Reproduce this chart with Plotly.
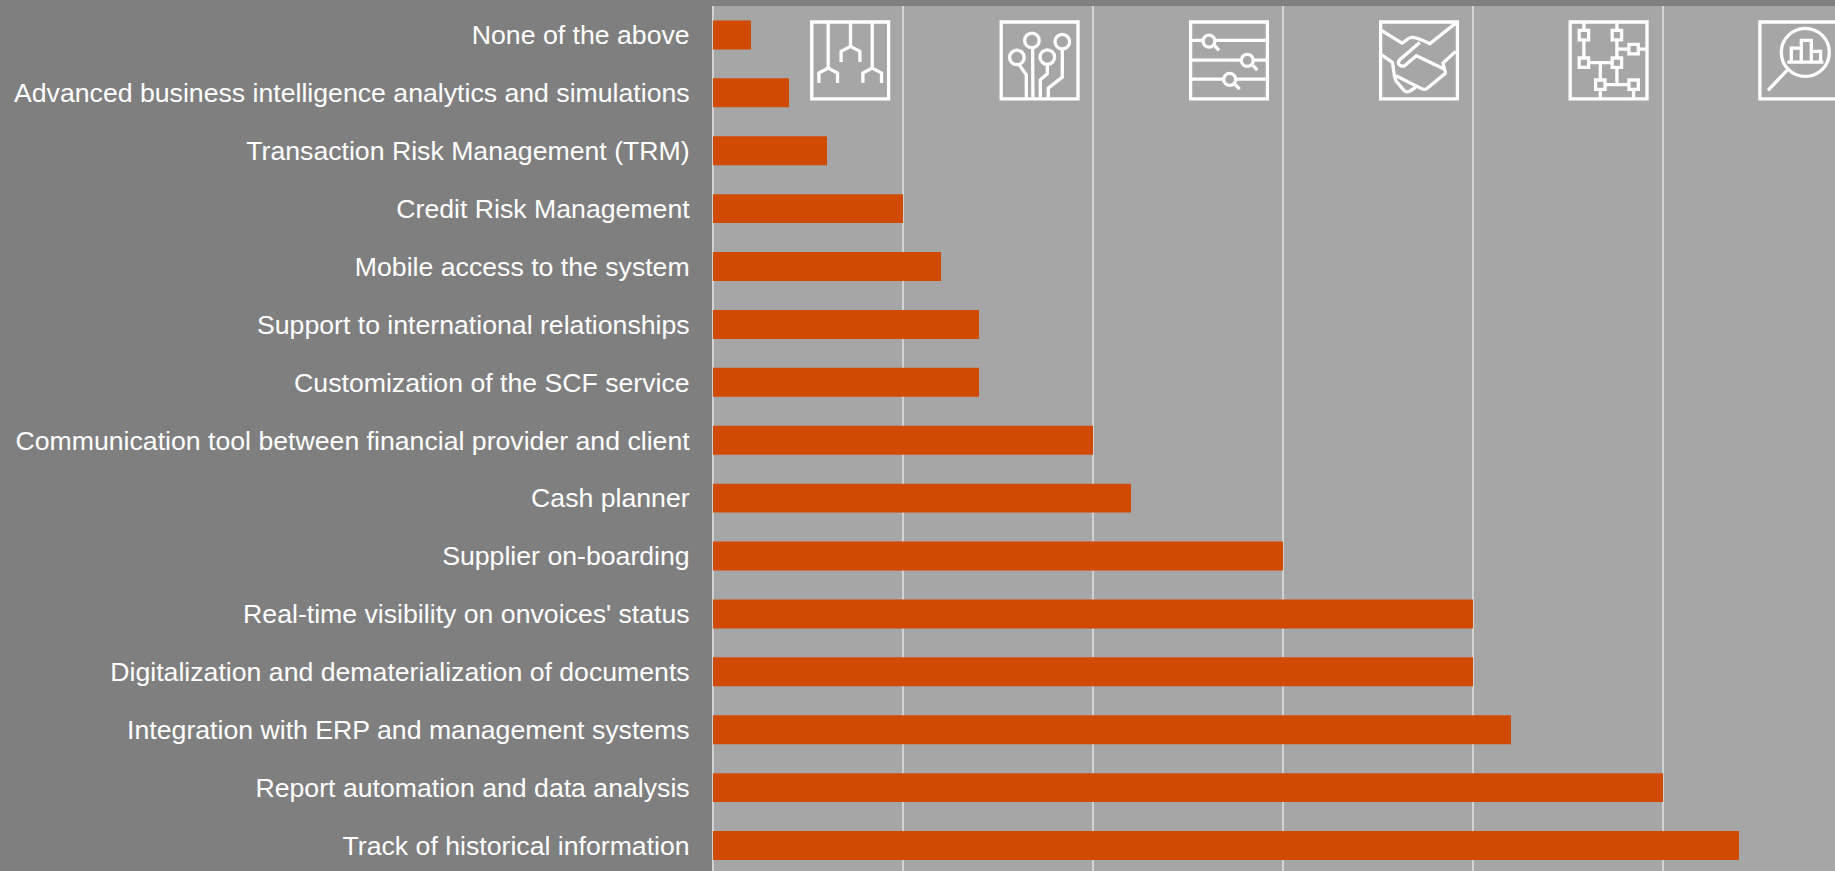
import plotly.graph_objects as go

categories = ["None of the above", "Advanced business intelligence analytics and simulations",
              "Transaction Risk Management (TRM)", "Credit Risk Management", "Mobile access to the system",
              "Support to international relationships", "Customization of the SCF service",
              "Communication tool between financial provider and client", "Cash planner", "Supplier on-boarding",
              "Real-time visibility on onvoices' status", "Digitalization and dematerialization of documents",
              "Integration with ERP and management systems", "Report automation and data analysis",
              "Track of historical information"]
values = [1, 2, 3, 5, 6, 7, 7, 10, 11, 15, 20, 20, 21, 25, 27]

W, H = 1835, 871
L, T = 713, 6
BG, PLOT, WHITE = "#7F7F7F", "#A6A6A6", "#FFFFFF"
SW = 3.3

def px(x): return (x - L) / (W - L)
def py(y): return (H - y) / (H - T)

class Icon:
    def __init__(self, ox, oy=20.4):
        self.ox, self.oy = ox, oy
    def X(self, x): return px(self.ox + x)
    def Y(self, y): return py(self.oy + y)
    def line(self, pts, close=False, fill=None, w=SW):
        d = "M" + " L".join(f"{self.X(x):.5f},{self.Y(y):.5f}" for x, y in pts) + (" Z" if close else "")
        return dict(type="path", xref="paper", yref="paper", path=d, line=dict(color=WHITE, width=w),
                    fillcolor=fill if fill else "rgba(0,0,0,0)", layer="above")
    def curve(self, d_pts):
        # d_pts: list of (command, [points])
        parts = []
        for cmd, pts in d_pts:
            parts.append(cmd + " ".join(f"{self.X(x):.5f},{self.Y(y):.5f}" for x, y in pts))
        return dict(type="path", xref="paper", yref="paper", path=" ".join(parts),
                    line=dict(color=WHITE, width=SW), fillcolor="rgba(0,0,0,0)", layer="above")
    def circle(self, cx, cy, r, fill=PLOT):
        return dict(type="circle", xref="paper", yref="paper", x0=self.X(cx - r), x1=self.X(cx + r),
                    y0=self.Y(cy + r), y1=self.Y(cy - r), line=dict(color=WHITE, width=SW),
                    fillcolor=fill, layer="above")
    def box(self):
        a, b = 1.6, 78.4
        return self.line([(a, a), (b, a), (b, b), (a, b)], close=True)
    def square(self, cx, cy, h=4.7):
        return self.line([(cx - h, cy - h), (cx + h, cy - h), (cx + h, cy + h), (cx - h, cy + h)], close=True, fill=PLOT)

shapes = []

# icon 1
i = Icon(810.2)
shapes += [i.box()]
for vx, vy, dx, top, mid, bot in [(18, 47.7, 9.3, 47.7, 52.7, 62.7), (40.3, 26, 9.4, 26, 31, 41.7), (62, 47.7, 9.3, 47.7, 52.7, 62.7)]:
    shapes.append(i.line([(vx, 2), (vx, vy)]))
    shapes.append(i.line([(vx - dx, bot), (vx - dx, mid), (vx, top), (vx + dx, mid), (vx + dx, bot)]))

# icon 2
i = Icon(999.6)
shapes += [i.box()]
for pts in [[(33, 27), (33.3, 77)], [(20, 45), (26.7, 54.3), (26.7, 77)],
            [(47.7, 44), (47.7, 53.3), (40.7, 59.3), (40.7, 77)],
            [(62.7, 28.7), (62.7, 56.7), (48.7, 67.7), (48.7, 77)]]:
    shapes.append(i.line(pts))
for c in [(32.3, 20), (62.7, 21.3), (17.3, 37), (47.7, 36.7)]:
    shapes.append(i.circle(c[0], c[1], 7.3))

# icon 3
i = Icon(1189)
shapes += [i.box()]
for y in [20, 39.7, 58.7]:
    shapes.append(i.line([(2, y), (78, y)]))
for (cx, cy), h in [((20, 20.7), [(25.7, 25.3), (30, 30)]), ((58.3, 40), [(64, 45), (68.3, 49.7)]), ((40.7, 59), [(45.7, 63.7), (50.7, 68.7)])]:
    shapes.append(i.line(h))
    shapes.append(i.circle(cx, cy, 6))

# icon 4
i = Icon(1379)
shapes += [i.box()]
shapes.append(i.curve([("M", [(2.3, 10)]), ("L", [(23, 22.7)]), ("C", [(28, 20), (29, 17), (33, 17)]),
                       ("C", [(38, 17), (44, 20), (50.7, 23.3)]), ("L", [(79, 1)])]))
shapes.append(i.curve([("M", [(40.7, 22)]), ("L", [(21, 39)]), ("C", [(17, 44), (22, 47), (26, 45)]),
                       ("L", [(37.3, 35.3)]), ("L", [(64, 48)]), ("C", [(67, 50), (67, 53), (65, 54)]),
                       ("L", [(48, 68)]), ("C", [(46, 70), (44, 69), (42, 68)]), ("L", [(17, 55.3)])]))
shapes.append(i.curve([("M", [(2.3, 34.3)]), ("L", [(13.3, 42)]), ("C", [(15, 47), (14, 55), (17.3, 61)]),
                       ("L", [(25, 70)]), ("C", [(28, 73), (31, 71), (36.7, 66.7)])]))
shapes.append(i.line([(76.7, 31), (64, 42.7), (65.5, 49.3)]))

# icon 5
i = Icon(1568.6)
shapes += [i.box()]
for pts in [[(15.3, 2), (15.3, 42.3)], [(48.3, 2), (48.3, 64.3)], [(15.3, 42.3), (48.3, 42.3)],
            [(31.7, 42.3), (31.7, 78)], [(65, 64.3), (65, 78)], [(48.3, 28.7), (78, 28.7)], [(31.7, 64.3), (65, 64.3)]]:
    shapes.append(i.line(pts))
for c in [(15.3, 14.7), (48.3, 14.7), (65, 28.7), (15.3, 42.3), (48.3, 42.3), (31.7, 64.3), (65, 64.3)]:
    shapes.append(i.square(*c))

# icon 6
i = Icon(1758.3)
shapes += [i.box(), i.circle(47, 32, 24, fill="rgba(0,0,0,0)")]
shapes.append(i.line([(28.7, 50), (9.7, 70)]))
shapes.append(i.line([(29, 41.7), (65, 41.7)]))
shapes.append(i.line([(33, 41.7), (33, 27.7), (43, 27.7), (43, 41.7)]))
shapes.append(i.line([(43, 27.7), (43, 20), (53, 20), (53, 41.7)]))
shapes.append(i.line([(53, 31), (62.3, 31), (62.3, 41.7)]))

fig = go.Figure(go.Bar(y=categories, x=values, orientation="h", marker=dict(color="#D04A02", line=dict(width=0)),
                       hoverinfo="skip"))
fig.update_layout(
    width=W, height=H, autosize=False, showlegend=False, bargap=0.5,
    margin=dict(l=L, r=0, t=T, b=0, pad=0), paper_bgcolor=BG, plot_bgcolor=PLOT,
    font=dict(family="Liberation Sans, Arial, sans-serif", color=WHITE, size=26.67),
    xaxis=dict(range=[0, (W - L) / 38], tick0=0, dtick=5, tickmode="linear", showticklabels=False, ticks="",
               showgrid=True, gridcolor="#D2D2D2", gridwidth=1.5, zeroline=True, zerolinecolor="#D2D2D2",
               zerolinewidth=1.5, showline=False, automargin=False),
    yaxis=dict(type="category", categoryorder="array", categoryarray=categories,
               range=[14.44, -0.5], showgrid=False, zeroline=False, showline=False, ticks="outside", ticklen=17,
               tickcolor="rgba(0,0,0,0)", tickfont=dict(size=26.67, color=WHITE), automargin=False),
    shapes=shapes,
)
fig.write_html("out.html", config=dict(displayModeBar=False),
               post_script="document.documentElement.style.background='#7F7F7F';document.body.style.margin='0';document.body.style.overflow='hidden';window.dispatchEvent(new Event('resize'));")
